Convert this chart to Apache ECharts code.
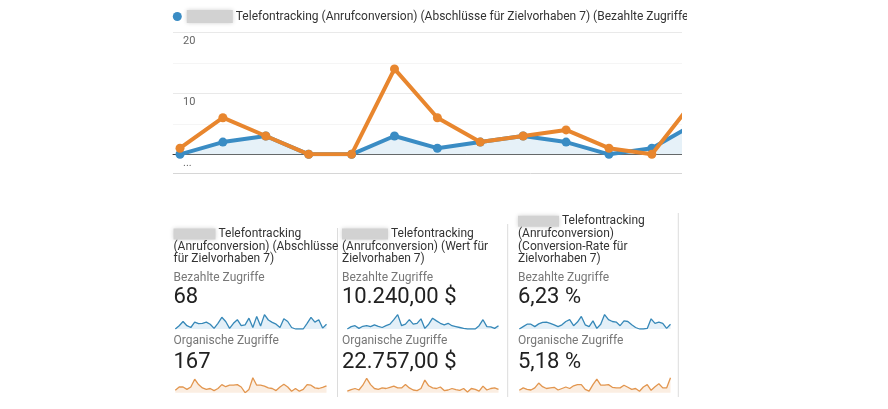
<!DOCTYPE html>
<html>
<head>
<meta charset="utf-8">
<script src="https://cdn.jsdelivr.net/npm/echarts@6/dist/echarts.min.js"></script>
<style>
html,body{margin:0;padding:0;background:#fff;}
#wrap{position:absolute;left:0;top:0;width:687px;height:409px;overflow:hidden;background:#fff;}
#c{width:888px;height:409px;}
</style>
</head>
<body>
<div id="wrap"><div id="c"></div></div>
<script>
// ---- main chart data (weekly) ----
const weeks = ['W1','W2','W3','W4','W5','W6','W7','W8','W9','W10','W11','W12','W13','W14'];
const paidConversions = [0, 2, 3, 0, 0, 3, 1, 2, 3, 2, 0, 1, 5];
const organicConversions = [1, 6, 3, 0, 0, 14, 6, 2, 3, 4, 1, 0, 9];
const yTickValues = [0, 10, 20];
const yTickTexts = ['...', '10', '20'];
const legendName = 'Telefontracking (Anrufconversion) (Abschlüsse für Zielvorhaben 7) (Bezahlte Zugriffe)';

// ---- scorecards ----
const cardTitles = [
  ['Telefontracking', '(Anrufconversion) (Abschlüsse', 'für Zielvorhaben 7)'],
  ['Telefontracking', '(Anrufconversion) (Wert für', 'Zielvorhaben 7)'],
  ['Telefontracking', '(Anrufconversion)', '(Conversion-Rate für', 'Zielvorhaben 7)']
];
const paidLabel = 'Bezahlte Zugriffe';
const organicLabel = 'Organische Zugriffe';
const paidValues = ['68', '10.240,00 $', '6,23 %'];
const organicValues = ['167', '22.757,00 $', '5,18 %'];

// ---- sparklines (daily) ----
const sparkPaid1 = [0,1.1,2.5,1.1,0.5,2.3,1.8,1.9,2.3,1.6,0.2,1.9,3.9,2.5,0.2,1.9,3.1,1.1,1.4,3.6,0.5,4.2,1.0,4.8,3.0,2.2,1.6,0.5,3.4,2.5,0.5,0,0,0,1.9,3.9,2.3,3.1,0.3,1.6];
const sparkOrganic1 = [0.8,1.9,1.9,1.1,1.9,4.5,2.7,1.6,1.1,1.4,0.7,1.4,2.7,2.0,2.5,2.5,2.7,1.9,0,1.1,5,2.5,2.5,2.2,1.6,1.4,0.7,1.9,2.8,1.9,0.5,1.4,0.5,1.1,2.7,2.5,1.6,1.4,1.8,2.3];
const sparkPaid2 = [0,0.8,1.1,0.2,0.9,1.1,0.8,1.4,0.9,0.5,1.1,1.6,3.1,4.8,1.1,1.6,3.1,1.6,1.9,3.4,0.2,1.6,3.6,2.7,1.9,1.4,1.9,1.1,0.8,0.5,0.2,0,0,0,1.1,3.1,0.8,0.7,0.2,1.1];
const sparkOrganic2 = [0.5,1.0,1.4,0.9,2.5,4.8,2.7,1.4,1.1,1.6,1.4,1.8,2.2,1.6,1.6,2.7,1.6,0.9,0.7,1.4,4.2,2.3,1.6,1.4,1.9,0.7,0.9,1.4,1.0,0.8,1.4,0.2,1.4,1.1,0.5,2.2,0.9,1.4,1.6,1.1];
const sparkPaid3 = [0,0.8,1.6,1.6,0.8,1.7,2.2,2.3,1.9,1.4,0.8,1.4,2.5,3.1,1.1,2.3,4.2,1.4,0.8,2.7,0.2,1.6,4.8,3.1,2.5,2.3,1.1,2.7,2.5,1.4,0.5,0,0,0.2,3.4,1.9,2.3,1.9,0.2,1.6];
const sparkOrganic3 = [0.8,1.6,1.1,0.9,1.6,3.2,2.0,1.4,1.6,1.8,0.9,1.4,1.9,1.4,2.3,2.7,2.7,1.1,0.5,2.7,4.5,2.5,2.5,2.7,1.8,1.6,1.6,2.5,1.8,1.1,1.4,0.5,1.9,2.7,0.8,2.0,3.0,1.6,1.6,5];
const sparkDays = sparkPaid1.map((v, i) => 'D' + (i + 1));

const BLUE = '#3a8cc4';
const ORANGE = '#e8862e';
const SBLUE = '#3688b8';
const SORANGE = '#e2964f';

const chart = echarts.init(document.getElementById('c'), null, {renderer: 'canvas'});

const cardX = [173.5, 342, 518];
const blurW = [42, 46, 41];
const sparkLeft = [175.3, 347.3, 519.3];
const sparkW = 151.2;
const sparks = [[sparkPaid1, sparkOrganic1],[sparkPaid2, sparkOrganic2],[sparkPaid3, sparkOrganic3]];

const grids = [{left: 173, top: 32.3, right: 128.9, bottom: 254.7}];
const xAxes = [{
  type: 'value', gridIndex: 0, min: -0.163, max: 13.5,
  axisLine: {show: true, lineStyle: {color: '#3a3a3a', width: 1}},
  axisTick: {show: false}, axisLabel: {show: false}, splitLine: {show: false}
}];
const yAxes = [{
  type: 'value', gridIndex: 0, min: 0, max: 20, interval: 5,
  axisLine: {show: false}, axisTick: {show: false},
  axisLabel: {
    inside: true, margin: 10, align: 'left', verticalAlign: 'top', padding: [3, 0, 0, 0],
    color: '#666', fontSize: 11, fontFamily: 'Roboto',
    formatter: v => { const k = yTickValues.indexOf(v); return k >= 0 ? yTickTexts[k] : ''; }
  },
  splitLine: {show: true, lineStyle: {color: ['#ffffff', '#f5f5f5', '#e9e9e9', '#f5f5f5', '#e9e9e9'], width: 1}}
}];
const series = [
  {
    name: legendName, type: 'line', xAxisIndex: 0, yAxisIndex: 0,
    data: paidConversions.map((v, i) => [weeks.indexOf(weeks[i]), v]),
    symbol: 'circle', symbolSize: 9, showSymbol: true,
    lineStyle: {color: BLUE, width: 4}, itemStyle: {color: BLUE},
    areaStyle: {color: '#e6f1f8', opacity: 1}, z: 2
  },
  {
    name: 'Organische Zugriffe', type: 'line', xAxisIndex: 0, yAxisIndex: 0,
    data: organicConversions.map((v, i) => [weeks.indexOf(weeks[i]), v]),
    symbol: 'circle', symbolSize: 9, showSymbol: true,
    lineStyle: {color: ORANGE, width: 4}, itemStyle: {color: ORANGE}, z: 3
  }
];

const rowTops = [314, 377.7];
sparks.forEach((pair, c) => {
  pair.forEach((arr, r) => {
    const gi = grids.length;
    grids.push({left: sparkLeft[c], top: rowTops[r], width: sparkW, height: 15});
    xAxes.push({type: 'category', gridIndex: gi, data: sparkDays, boundaryGap: false, show: false});
    yAxes.push({type: 'value', gridIndex: gi, min: 0, max: 5, show: false});
    const col = r === 0 ? SBLUE : SORANGE;
    series.push({
      type: 'line', xAxisIndex: gi, yAxisIndex: gi, data: arr, showSymbol: false, silent: true,
      lineStyle: {color: col, width: 1.3}, itemStyle: {color: col},
      areaStyle: {color: r === 0 ? '#e4f0f8' : '#fbeee2', opacity: 1}
    });
  });
});

const graphics = [];
// bottom border of main chart
graphics.push({type: 'line', shape: {x1: 173, y1: 173.5, x2: 888, y2: 173.5}, style: {stroke: '#d6d6d6', lineWidth: 1}, silent: true});
// page edge: plot area cut at x=682 (legend text runs a bit further)
graphics.push({type: 'rect', z: 100, shape: {x: 682, y: 28, width: 220, height: 400}, style: {fill: '#fff'}, silent: true});
// card separators
[[337.5, 228], [507.7, 224], [678.3, 213]].forEach(s => {
  graphics.push({type: 'line', shape: {x1: s[0], y1: s[1], x2: s[0], y2: 397}, style: {stroke: '#dcdcdc', lineWidth: 1}, silent: true});
});
cardTitles.forEach((lines, c) => {
  const top = lines.length === 4 ? 214.9 : 227.6;
  graphics.push({
    type: 'text', x: cardX[c], y: top, silent: true,
    style: {
      text: '{b|} ' + lines.join('\n'),
      fontSize: 12, fontFamily: 'Roboto', fill: '#333', lineHeight: 12.7,
      verticalAlign: 'top', align: 'left',
      rich: {b: {width: blurW[c], height: 11, lineHeight: 12.7, backgroundColor: '#d2d2d2', shadowBlur: 4, shadowColor: '#d2d2d2'}}
    }
  });
  graphics.push({type: 'text', x: cardX[c], y: 277.5, silent: true,
    style: {text: paidLabel, fontSize: 12, fontFamily: 'Roboto', fill: '#777', verticalAlign: 'middle', align: 'left'}});
  graphics.push({type: 'text', x: cardX[c], y: 297, silent: true,
    style: {text: paidValues[c], fontSize: 22, fontFamily: 'Roboto', fill: '#212121', verticalAlign: 'middle', align: 'left'}});
  graphics.push({type: 'text', x: cardX[c], y: 340.5, silent: true,
    style: {text: organicLabel, fontSize: 12, fontFamily: 'Roboto', fill: '#777', verticalAlign: 'middle', align: 'left'}});
  graphics.push({type: 'text', x: cardX[c], y: 362, silent: true,
    style: {text: organicValues[c], fontSize: 22, fontFamily: 'Roboto', fill: '#212121', verticalAlign: 'middle', align: 'left'}});
});

chart.setOption({
  animation: false,
  backgroundColor: '#fff',
  legend: {
    data: [legendName], left: 172.8, top: 10, padding: 0, icon: 'circle', itemWidth: 9, itemHeight: 9,
    selectedMode: false,
    formatter: n => '{b|} ' + n,
    textStyle: {
      color: '#333', fontSize: 12, fontFamily: 'Roboto',
      rich: {b: {width: 46, height: 13, backgroundColor: '#d2d2d2', shadowBlur: 4, shadowColor: '#d2d2d2'}}
    }
  },
  grid: grids,
  xAxis: xAxes,
  yAxis: yAxes,
  series: series,
  graphic: graphics
});
</script>
</body>
</html>
